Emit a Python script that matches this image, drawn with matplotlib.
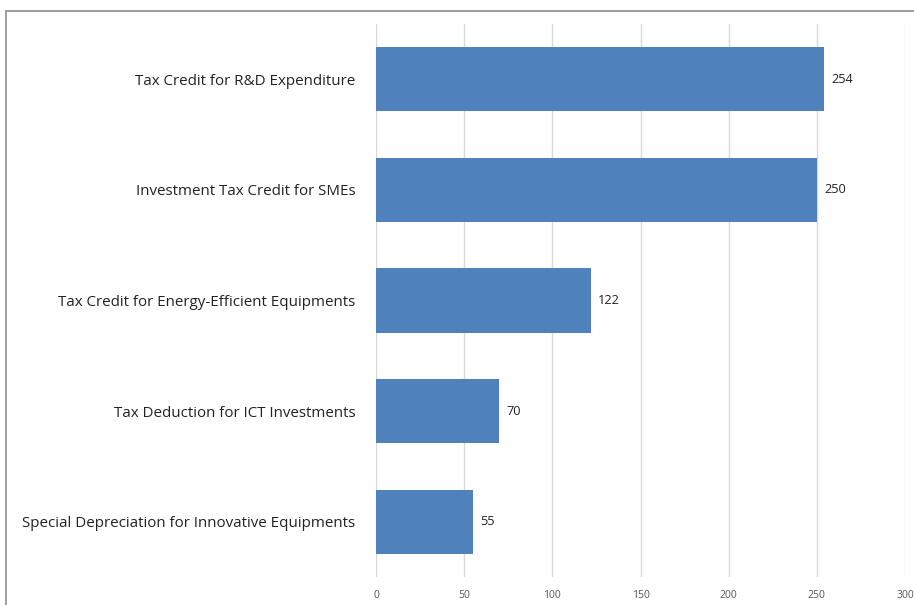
import matplotlib
matplotlib.use("Agg")
import matplotlib.pyplot as plt
from matplotlib.patches import Rectangle

# data, top to bottom as shown
categories = [
    "Tax Credit for R&D Expenditure",
    "Investment Tax Credit for SMEs",
    "Tax Credit for Energy-Efficient Equipments",
    "Tax Deduction for ICT Investments",
    "Special Depreciation for Innovative Equipments",
]
values = [254, 250, 122, 70, 55]
x_ticks = [0, 50, 100, 150, 200, 250, 300]

plt.rcParams["font.family"] = ["Open Sans", "DejaVu Sans"]

fig = plt.figure(figsize=(9.14, 6.05), dpi=100)
ax = fig.add_axes([376 / 914, 1 - 577 / 605, 529 / 914, 553 / 605])

# outer frame of the chart box (runs off the right and bottom edges)
fig.patches.append(Rectangle((6 / 914, -0.1), 2.0, 1 - 11 / 605 + 0.1,
                             transform=fig.transFigure, fill=False,
                             edgecolor="#8c8c8c", linewidth=1.2))

ypos = list(range(len(categories)))[::-1]
ax.barh(ypos, values, height=0.58, color="#4F81BD", zorder=3)

for y, v in zip(ypos, values):
    ax.text(v + 4, y, str(v), va="center", ha="left", fontsize=9.2, color="#222222")

ax.set_xlim(0, 300)
ax.set_ylim(-0.5, len(categories) - 0.5)
ax.set_xticks(x_ticks)
ax.set_xticklabels([str(t) for t in x_ticks], fontsize=7.5, color="#555555")
ax.set_yticks(ypos)
ax.set_yticklabels(categories, fontsize=10.9, color="#222222")
ax.tick_params(axis="both", length=0)
ax.tick_params(axis="y", pad=15)
ax.tick_params(axis="x", pad=9)

ax.grid(axis="x", color="#d9d9d9", linewidth=1, zorder=0)
for s in ax.spines.values():
    s.set_visible(False)

fig.savefig("out.png", dpi=100)
